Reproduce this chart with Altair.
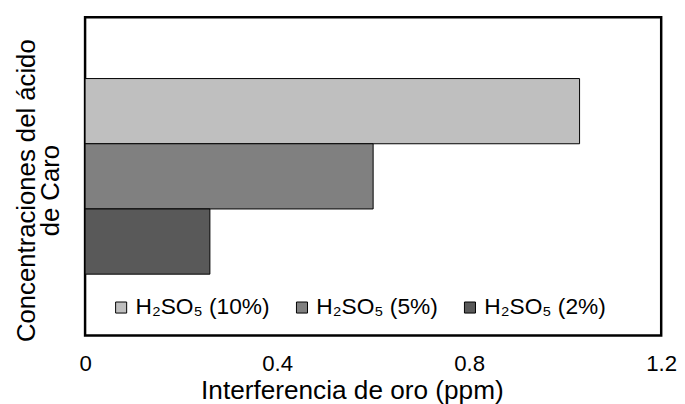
import altair as alt
import pandas as pd

series = ["H₂SO₅ (10%)", "H₂SO₅ (5%)", "H₂SO₅ (2%)"]
values = [1.03, 0.60, 0.26]
colors = ["#bfbfbf", "#808080", "#595959"]
x_ticks = [0, 0.4, 0.8, 1.2]

df = pd.DataFrame({"serie": series, "valor": values})

FONT = "Liberation Sans"

chart = alt.Chart(df).mark_bar(stroke="#000000", strokeWidth=1).encode(
    x=alt.X("valor:Q",
            scale=alt.Scale(domain=[0, 1.2], nice=False),
            axis=alt.Axis(values=x_ticks, title="Interferencia de oro (ppm)",
                          labelExpr="datum.value == 0 ? '0' : format(datum.value, '.1f')",
                          grid=False, domain=False, ticks=False,
                          labelFontSize=22.5, labelFont=FONT, labelColor="#000000",
                          labelPadding=17, titleFontSize=26.5, titleFont=FONT,
                          titleFontWeight="normal", titleColor="#000000", titlePadding=3,
                          titleX=270,
                          labelFlush=False, labelOverlap=False)),
    y=alt.Y("serie:N", sort=series,
            scale=alt.Scale(paddingInner=0, paddingOuter=0.94),
            axis=alt.Axis(title=["Concentraciones del ácido", "de Caro"],
                          labels=False, ticks=False, domain=False, grid=False,
                          titleFontSize=26, titleFont=FONT, titleFontWeight="normal",
                          titleColor="#000000", titlePadding=22, titleLineHeight=24,
                          titleY=175)),
    color=alt.Color("serie:N", sort=series,
                    scale=alt.Scale(domain=series, range=colors),
                    legend=alt.Legend(title=None, orient="none", direction="horizontal",
                                      columns=3, legendX=25, legendY=282,
                                      symbolType="square", symbolSize=125,
                                      symbolStrokeColor="#000000", symbolStrokeWidth=1,
                                      symbolOpacity=1,
                                      labelFontSize=23, labelFont=FONT, labelColor="#000000",
                                      labelOffset=3, columnPadding=21)),
).properties(
    width=583, height=322,
    autosize=alt.AutoSizeParams(type="none"),
    padding={"left": 78, "top": 7, "right": 16, "bottom": 67},
).configure_view(stroke="#000000", strokeWidth=2.5, fill="#ffffff")

chart.save("out.html", embed_options={"renderer": "svg", "actions": False})
